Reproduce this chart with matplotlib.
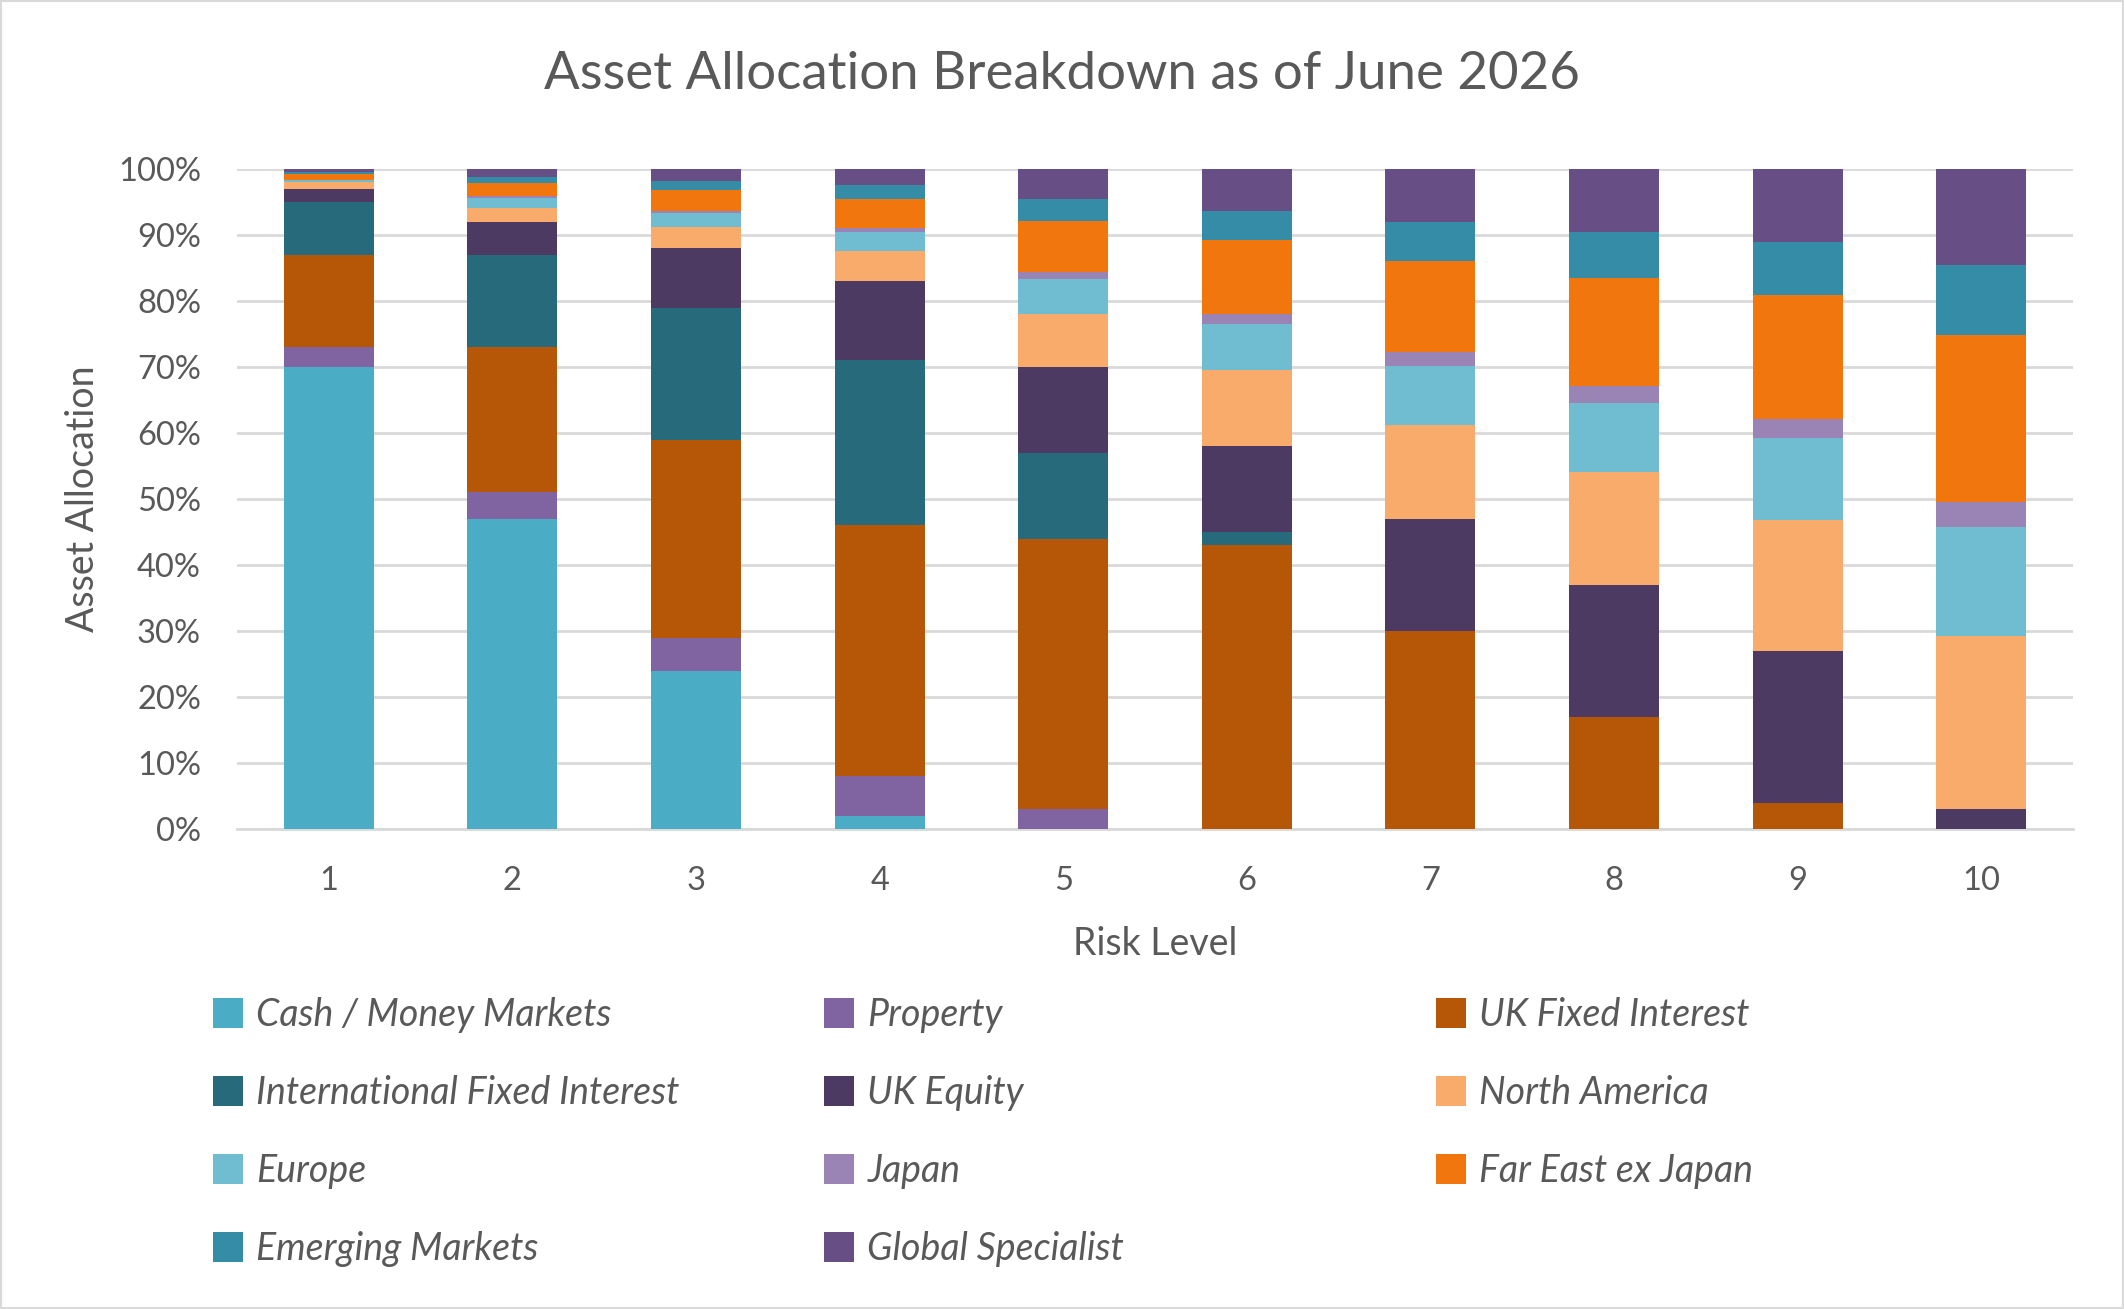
import matplotlib.pyplot as plt
from matplotlib.patches import Rectangle
import numpy as np

plt.rcParams['font.family'] = ['Lato', 'DejaVu Sans']

risk_levels = ["1", "2", "3", "4", "5", "6", "7", "8", "9", "10"]

cash      = [70, 47, 24, 2, 0, 0, 0, 0, 0, 0]
prop      = [3, 4, 5, 6, 3, 0, 0, 0, 0, 0]
uk_fi     = [14, 22, 30, 38, 41, 43, 30, 17, 4, 0]
intl_fi   = [8, 14, 20, 25, 13, 2, 0, 0, 0, 0]
uk_eq     = [2, 5, 9, 12, 13, 13, 17, 20, 23, 3]
n_america = [1, 2.1, 3.2, 4.5, 8, 11.5, 14.2, 17.1, 19.8, 26.3]
europe    = [0.4, 1.5, 2.1, 3, 5.3, 7, 9, 10.5, 12.4, 16.4]
japan     = [0, 0.25, 0.3, 0.5, 1.1, 1.6, 2, 2.5, 2.9, 3.9]
far_east  = [0.9, 2.1, 3.2, 4.5, 7.7, 11.1, 13.9, 16.4, 18.8, 25.2]
emerging  = [0.2, 0.8, 1.4, 2, 3.3, 4.5, 5.8, 6.9, 8, 10.6]
global_sp = [0.5, 1.25, 1.8, 2.5, 4.6, 6.3, 8.1, 9.6, 11.1, 14.6]

series = [
    ("Cash / Money Markets", cash, "#4BACC6"),
    ("Property", prop, "#8064A2"),
    ("UK Fixed Interest", uk_fi, "#B65708"),
    ("International Fixed Interest", intl_fi, "#276A7C"),
    ("UK Equity", uk_eq, "#4D3A62"),
    ("North America", n_america, "#F9AB6C"),
    ("Europe", europe, "#70BCD1"),
    ("Japan", japan, "#9A84B6"),
    ("Far East ex Japan", far_east, "#F2760E"),
    ("Emerging Markets", emerging, "#358CA6"),
    ("Global Specialist", global_sp, "#674F86"),
]

txt = "#595959"
grid = "#D9D9D9"

fig = plt.figure(figsize=(21.24, 13.09), dpi=100)
ax = fig.add_axes([0.1116, 0.3667, 0.8644, 0.5042])

x = np.arange(len(risk_levels))
bottom = np.zeros(len(risk_levels))
handles = {}
for name, vals, col in series:
    v = np.array(vals, dtype=float) / 100
    b = ax.bar(x, v, 0.49, bottom=bottom, color=col, label=name, zorder=3)
    handles[name] = b
    bottom += v

ax.set_xlim(-0.5, 9.5)
ax.set_ylim(0, 1)
ax.set_yticks(np.arange(0, 1.01, 0.1))
ax.set_yticklabels([f"{i}%" for i in range(0, 101, 10)])
ax.set_xticks(x)
ax.set_xticklabels(risk_levels)
ax.tick_params(axis='both', length=0, labelsize=23.5, colors=txt)
ax.tick_params(axis='y', pad=26)
ax.tick_params(axis='x', pad=27)
ax.grid(axis='y', color=grid, linewidth=2, zorder=0)
for s in ["top", "right", "left"]:
    ax.spines[s].set_visible(False)
ax.spines["bottom"].set_color(grid)
ax.spines["bottom"].set_linewidth(2)

ax.set_xlabel("Risk Level", fontsize=27, color=txt, labelpad=21)
ax.set_ylabel("Asset Allocation", fontsize=27, color=txt, labelpad=12)
fig.text(0.5, 0.943, "Asset Allocation Breakdown as of June 2026", fontsize=38,
         color=txt, ha='center', va='center')

# legend: three columns placed separately
cols = [
    ["Cash / Money Markets", "International Fixed Interest", "Europe", "Emerging Markets"],
    ["Property", "UK Equity", "Japan", "Global Specialist"],
    ["UK Fixed Interest", "North America", "Far East ex Japan"],
]
col_x = [0.093, 0.381, 0.669]
for cx, names in zip(col_x, cols):
    fig.legend([handles[n] for n in names], names, loc='upper left',
               bbox_to_anchor=(cx, 0.250), frameon=False,
               prop={'size': 27, 'style': 'italic'}, labelcolor=txt,
               handlelength=0.8, handleheight=0.85, handletextpad=0.35,
               labelspacing=1.12, borderaxespad=0)

fig.add_artist(Rectangle((0.0005, 0.0008), 0.999, 0.9984, transform=fig.transFigure,
                         fill=False, edgecolor=grid, linewidth=1.5))

fig.savefig("out.png", dpi=100)
